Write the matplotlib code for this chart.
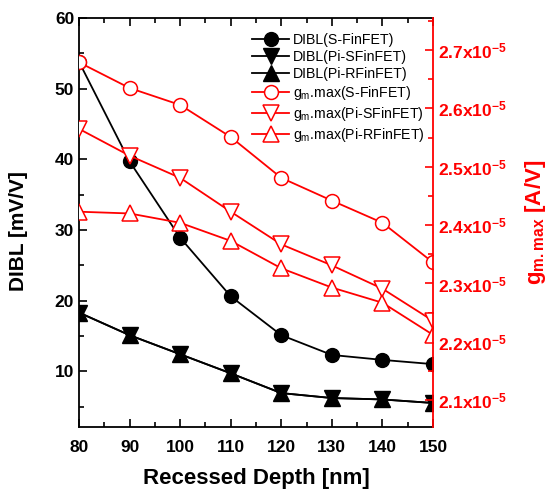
import matplotlib
matplotlib.use("Agg")
import matplotlib.pyplot as plt
from matplotlib.ticker import MultipleLocator, FuncFormatter

plt.rcParams['font.family'] = ['Liberation Sans', 'DejaVu Sans']
plt.rcParams['mathtext.fontset'] = 'custom'
plt.rcParams['mathtext.rm'] = 'Liberation Sans'
plt.rcParams['mathtext.it'] = 'Liberation Sans:italic'
plt.rcParams['mathtext.bf'] = 'Liberation Sans:bold'

depth = [80, 90, 100, 110, 120, 130, 140, 150]
dibl_s = [53.8, 39.7, 28.9, 20.6, 15.1, 12.3, 11.6, 11.0]
dibl_pis = [18.3, 15.1, 12.4, 9.7, 6.9, 6.2, 6.0, 5.5]
dibl_pir = [18.3, 15.1, 12.4, 9.7, 6.9, 6.2, 6.0, 5.5]
gm_s = [2.679e-5, 2.635e-5, 2.606e-5, 2.551e-5, 2.481e-5, 2.442e-5, 2.404e-5, 2.336e-5]
gm_pis = [2.565e-5, 2.519e-5, 2.481e-5, 2.423e-5, 2.367e-5, 2.331e-5, 2.291e-5, 2.236e-5]
gm_pir = [2.423e-5, 2.420e-5, 2.404e-5, 2.373e-5, 2.326e-5, 2.293e-5, 2.267e-5, 2.212e-5]

fig = plt.figure(figsize=(5.49, 4.92), dpi=100)
ax = fig.add_axes([79/549, 1-427/492, (433-79)/549, (427-18)/492])
ax2 = ax.twinx()

lw = 1.3
h1, = ax.plot(depth, dibl_s, '-o', color='black', lw=lw, ms=10, label='DIBL(S-FinFET)')
h2, = ax.plot(depth, dibl_pis, '-v', color='black', lw=lw, ms=11.5, label='DIBL(Pi-SFinFET)')
h3, = ax.plot(depth, dibl_pir, '-^', color='black', lw=lw, ms=11.5, label='DIBL(Pi-RFinFET)')
h4, = ax2.plot(depth, gm_s, '-o', color='red', lw=lw, ms=10, mfc='white', mec='red', mew=1.1,
               label=r'g$_{\mathregular{m}}$.max(S-FinFET)')
h5, = ax2.plot(depth, gm_pis, '-v', color='red', lw=lw, ms=11, mfc='white', mec='red', mew=1.1,
               label=r'g$_{\mathregular{m}}$.max(Pi-SFinFET)')
h6, = ax2.plot(depth, gm_pir, '-^', color='red', lw=lw, ms=11, mfc='white', mec='red', mew=1.1,
               label=r'g$_{\mathregular{m}}$.max(Pi-RFinFET)')

ax.set_xlim(80, 150)
ax.set_ylim(2.1, 60)
ax2.set_ylim(2.054e-5, 2.755e-5)

ax.xaxis.set_major_locator(MultipleLocator(10))
ax.xaxis.set_minor_locator(MultipleLocator(5))
ax.yaxis.set_major_locator(MultipleLocator(10))
ax.yaxis.set_minor_locator(MultipleLocator(5))
ax2.yaxis.set_major_locator(MultipleLocator(0.1e-5))
ax2.yaxis.set_minor_locator(MultipleLocator(0.05e-5))

def fmt(v, pos):
    return r'$\mathbf{%.1fx10^{-5}}$' % (v * 1e5)
ax2.yaxis.set_major_formatter(FuncFormatter(fmt))

ax.tick_params(axis='both', which='both', direction='in', top=True, right=False, width=1.2)
ax.tick_params(which='major', length=6, labelsize=12.5)
ax.tick_params(which='minor', length=3.5)
for t in ax.get_xticklabels() + ax.get_yticklabels():
    t.set_fontweight('bold')
ax.tick_params(axis='x', pad=9)

ax2.tick_params(axis='y', which='both', direction='in', colors='red', width=1.2)
ax2.tick_params(which='major', length=6, labelsize=12.5)
ax2.tick_params(which='minor', length=3.5)
ax2.spines['right'].set_color('red')
ax2.spines['right'].set_linewidth(1.3)
for s in ['left', 'top', 'bottom']:
    ax.spines[s].set_linewidth(1.3)
    ax2.spines[s].set_visible(False)
ax.spines['right'].set_visible(False)

ax.set_xlabel('Recessed Depth [nm]', fontsize=16, fontweight='bold', labelpad=10)
ax.set_ylabel('DIBL [mV/V]', fontsize=15, fontweight='bold', labelpad=12)
ax.yaxis.set_label_coords(-0.145, 0.48)
ax2.set_ylabel(r'$\mathbf{g_{m.max}}$ [A/V]', fontsize=16, fontweight='bold', color='red',
               rotation=90, labelpad=12)

leg = ax2.legend(handles=[h1, h2, h3, h4, h5, h6], loc='upper right',
                 bbox_to_anchor=(1.0, 0.985), frameon=False, fontsize=10.2,
                 handlelength=2.6, handletextpad=0.25, labelspacing=0.22, borderaxespad=0.2)

fig.savefig('out.png', dpi=100)
